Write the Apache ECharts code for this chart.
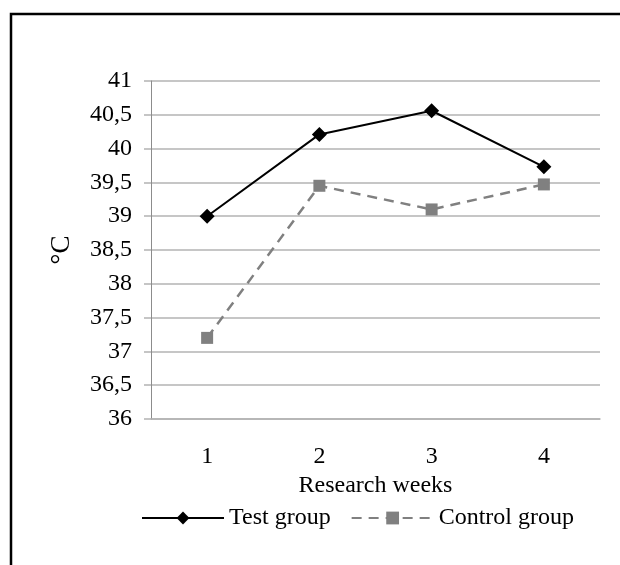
<!DOCTYPE html>
<html>
<head>
<meta charset="utf-8">
<script src="https://cdn.jsdelivr.net/npm/echarts@6/dist/echarts.min.js"></script>
<style>
html,body{margin:0;padding:0;background:#fff;}
#chart{width:620px;height:565px;}
</style>
</head>
<body>
<div id="chart"></div>
<script>
var weeks = ['1', '2', '3', '4'];
var testGroup = [39.0, 40.21, 40.56, 39.73];
var controlGroup = [37.2, 39.45, 39.1, 39.47];
var yTickLabels = ['36', '36,5', '37', '37,5', '38', '38,5', '39', '39,5', '40', '40,5', '41'];

var FONT = 'Liberation Serif';
var FS = 24;
var chart = echarts.init(document.getElementById('chart'), null, {renderer: 'canvas'});
chart.setOption({
  animation: false,
  backgroundColor: '#fff',
  textStyle: {fontFamily: FONT},
  graphic: [{
    type: 'rect',
    shape: {x: 11, y: 14, width: 700, height: 700},
    style: {fill: 'none', stroke: '#000', lineWidth: 2.5},
    silent: true
  }],
  grid: {left: 151, right: 20, top: 81, bottom: 146, containLabel: false},
  legend: {
    top: 501,
    left: 136,
    itemWidth: 82,
    itemHeight: 16,
    itemGap: 20,
    textStyle: {fontFamily: FONT, fontSize: FS, color: '#000'},
    data: ['Test group', 'Control group']
  },
  xAxis: {
    type: 'category',
    data: weeks,
    boundaryGap: true,
    name: 'Research weeks',
    nameLocation: 'middle',
    nameGap: 52,
    nameTextStyle: {fontFamily: FONT, fontSize: FS, color: '#000'},
    axisLine: {lineStyle: {color: '#b3b3b3', width: 1.5}},
    axisTick: {show: false},
    axisLabel: {fontFamily: FONT, fontSize: FS, color: '#000', margin: 26}
  },
  yAxis: {
    type: 'value',
    min: 36,
    max: 41,
    interval: 0.5,
    name: '°C',
    nameLocation: 'middle',
    nameRotate: 90,
    nameGap: 76,
    nameTextStyle: {fontFamily: FONT, fontSize: 27, color: '#000'},
    axisLine: {show: true, lineStyle: {color: '#8c8c8c', width: 1}},
    axisTick: {show: true, length: 7, lineStyle: {color: '#b3b3b3', width: 1.5}},
    splitLine: {show: true, lineStyle: {color: '#b3b3b3', width: 1.5}},
    axisLabel: {
      fontFamily: FONT, fontSize: FS, color: '#000', margin: 19,
      formatter: function (v) {
        var i = Math.round((v - 36) / 0.5);
        return yTickLabels[i];
      }
    }
  },
  series: [{
    name: 'Test group',
    type: 'line',
    data: testGroup,
    symbol: 'diamond',
    symbolSize: 15,
    itemStyle: {color: '#000'},
    lineStyle: {color: '#000', width: 2},
    z: 3
  }, {
    name: 'Control group',
    type: 'line',
    data: controlGroup,
    symbol: 'rect',
    symbolSize: 12,
    itemStyle: {color: '#808080'},
    lineStyle: {color: '#808080', width: 2.5, type: [10, 7]},
    z: 2
  }]
});
</script>
</body>
</html>
